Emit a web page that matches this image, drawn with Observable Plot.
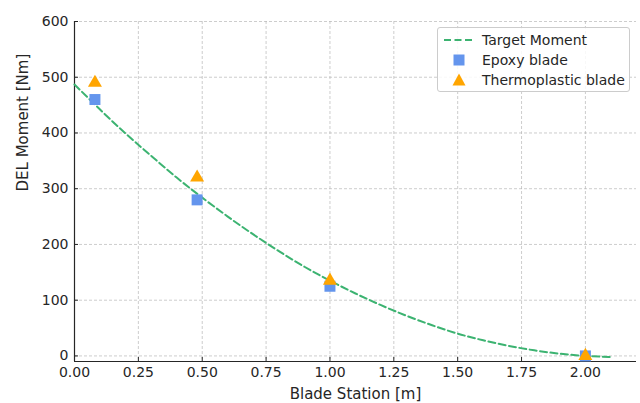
<!DOCTYPE html>
<html>
<head>
<meta charset="utf-8">
<script src="https://cdn.jsdelivr.net/npm/d3@7"></script>
<script src="https://cdn.jsdelivr.net/npm/@observablehq/plot@0.6"></script>
<style>
  html, body { margin: 0; padding: 0; background: #fff; }
  #wrap { position: relative; width: 640px; height: 403px; font-family: "DejaVu Sans", sans-serif; }
  #legend { position: absolute; left: 437px; top: 27px; width: 193px; height: 65px;
    border: 1px solid #cccccc; border-radius: 3px; background: rgba(255,255,255,0.85);
    box-sizing: border-box; font-size: 14px; color: #262626; }
  .row { position: absolute; left: 0; height: 20px; }
  .row svg { position: absolute; left: 4px; top: 0; }
  .row span { position: absolute; left: 44px; white-space: nowrap; line-height: 20px; }
</style>
</head>
<body>
<div id="wrap"></div>
<script>
// Target moment curve
const curveX = [0, 0.1, 0.2, 0.3, 0.4, 0.5, 0.6, 0.7, 0.8, 0.9, 1.0, 1.1, 1.2, 1.3, 1.4, 1.5, 1.6, 1.7, 1.8, 1.9, 2.0, 2.1];
const curveY = [487, 442, 399, 359, 320, 284, 250, 218, 188, 160, 135, 112, 91, 72, 55, 40, 28, 18, 10, 4, 0, -2];
// Measured points
const stations = [0.08, 0.48, 1.0, 2.0];
const epoxy = [460, 280, 125, 0];
const thermo = [490, 320, 135, 0];
const xTicks = [0, 0.25, 0.5, 0.75, 1.0, 1.25, 1.5, 1.75, 2.0];
const yTicks = [0, 100, 200, 300, 400, 500, 600];
const seriesNames = ["Target Moment", "Epoxy blade", "Thermoplastic blade"];
const xLabel = "Blade Station [m]";
const yLabel = "DEL Moment [Nm]";
const colors = ["#3cb371", "#6495ed", "#ffa500"];

const curve = curveX.map((x, i) => ({x, y: curveY[i]}));
const epoxyData = stations.map((x, i) => ({x, y: epoxy[i]}));
const thermoData = stations.map((x, i) => ({x, y: thermo[i]}));

const W = 640, H = 403, mL = 74, mR = 4, mT = 21, mB = 42;
const frameW = W - mL - mR, frameH = H - mT - mB, tick = 4;

const chart = Plot.plot({
  width: W,
  height: H,
  marginLeft: mL,
  marginRight: mR,
  marginTop: mT,
  marginBottom: mB,
  style: { fontFamily: "DejaVu Sans, sans-serif", fontSize: "14px", color: "#262626", background: "#fff" },
  x: { domain: [0, 2.2] },
  y: { domain: [-10, 600] },
  marks: [
    Plot.gridX(xTicks, { stroke: "#b0b0b0", strokeOpacity: 0.8, strokeDasharray: "3,2", strokeWidth: 0.8 }),
    Plot.gridY(yTicks, { stroke: "#b0b0b0", strokeOpacity: 0.8, strokeDasharray: "3,2", strokeWidth: 0.8 }),
    Plot.axisX(xTicks, { tickSize: 0, tickPadding: 6, tickFormat: d3.format(".2f"), fontSize: 14, fill: "#262626", label: null }),
    Plot.axisY(yTicks, { tickSize: 0, tickPadding: 6, fontSize: 14, fill: "#262626", label: null }),
    Plot.tickX(xTicks, { x: d => d, insetTop: frameH - tick, stroke: "#262626", strokeWidth: 1 }),
    Plot.tickY(yTicks, { y: d => d, insetRight: frameW - tick, stroke: "#262626", strokeWidth: 1 }),
    Plot.text([xLabel], { frameAnchor: "bottom", dy: 37, fontSize: 15, fill: "#262626" }),
    Plot.text([yLabel], { frameAnchor: "left", rotate: -90, dx: -51, fontSize: 15, fill: "#262626" }),
    Plot.ruleX([0], { stroke: "#262626", strokeWidth: 1.2 }),
    Plot.ruleY([-10], { stroke: "#262626", strokeWidth: 1.2 }),
    Plot.line(curve, { x: "x", y: "y", curve: "natural", stroke: colors[0], strokeWidth: 2, strokeDasharray: "7,3.5" }),
    Plot.dot(epoxyData, { x: "x", y: "y", symbol: "square", r: 6.2, fill: colors[1], stroke: "none" }),
    Plot.dot(thermoData, { x: "x", y: "y", symbol: "triangle", r: 5.2, fill: colors[2], stroke: "none" })
  ]
});
const wrap = document.getElementById("wrap");
wrap.appendChild(chart);

const legend = document.createElement("div");
legend.id = "legend";
const syms = [
  '<line x1="2" y1="10" x2="32" y2="10" stroke="' + colors[0] + '" stroke-width="2" stroke-dasharray="7,3.5"/>',
  '<rect x="11.5" y="4.5" width="11" height="11" fill="' + colors[1] + '"/>',
  '<path d="M17,3.5 L23.5,15.5 L10.5,15.5 Z" fill="' + colors[2] + '"/>'
];
seriesNames.forEach((name, i) => {
  const row = document.createElement("div");
  row.className = "row";
  row.style.top = (2 + i * 20) + "px";
  row.innerHTML = '<svg width="36" height="20">' + syms[i] + '</svg><span>' + name + '</span>';
  legend.appendChild(row);
});
wrap.appendChild(legend);
</script>
</body>
</html>
